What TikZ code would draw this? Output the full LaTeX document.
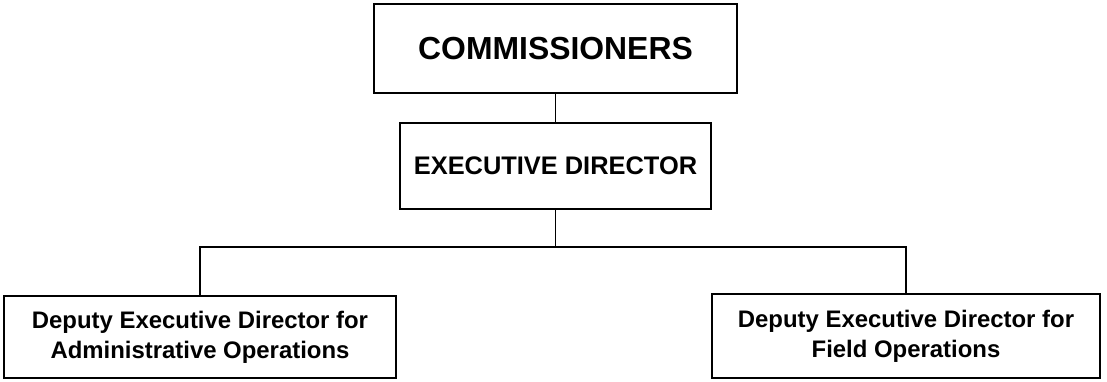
\documentclass[tikz,border=0pt]{standalone}
\usepackage{fontspec}
\setmainfont{Liberation Sans}
\begin{document}
\begin{tikzpicture}[x=1bp,y=1bp,
  orgbox/.style={draw=black, line width=1.6bp, inner sep=0pt, align=center, font=\bfseries},
  link/.style={draw=black, line width=1.4bp}]
\useasboundingbox (0,0) rectangle (1107,381);
\node[orgbox, minimum width=363bp, minimum height=89bp, font=\fontsize{32}{36}\bfseries\selectfont] (comm) at (555.5,332.5) {COMMISSIONERS};
\node[orgbox, minimum width=311bp, minimum height=86bp, font=\fontsize{25.5}{30}\bfseries\selectfont] (exec) at (555.5,215) {EXECUTIVE DIRECTOR};
\node[orgbox, minimum width=392bp, minimum height=82bp, font=\fontsize{24}{30}\bfseries\selectfont] (left) at (200,44) {Deputy Executive Director for\\Administrative Operations};
\node[orgbox, minimum width=388bp, minimum height=84bp, font=\fontsize{24}{30}\bfseries\selectfont] (right) at (906,45) {Deputy Executive Director for\\Field Operations};
\coordinate (bus) at (555.5,134);
\draw[link] (comm.south) -- (exec.north);
\draw[link] (exec.south) -- (bus);
\draw[link] (left.north) |- (bus) -| (right.north);
\end{tikzpicture}
\end{document}
